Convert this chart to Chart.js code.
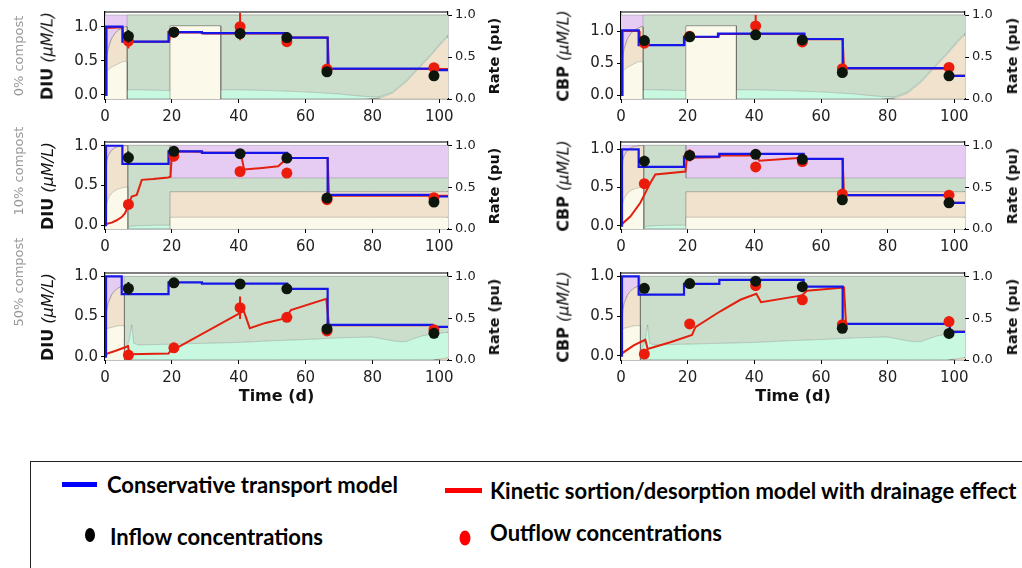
<!DOCTYPE html>
<html>
<head>
<meta charset="utf-8">
<script src="https://cdn.jsdelivr.net/npm/chart.js@4.4.0/dist/chart.umd.min.js"></script>
<style>
  html, body { margin: 0; padding: 0; background: #fff; overflow: hidden; }
  body { width: 1022px; height: 568px; position: relative; font-family: 'DejaVu Sans', sans-serif; }
  .panel { position: absolute; }
  .rot { position: absolute; transform: translate(-50%, -50%) rotate(-90deg); white-space: nowrap; color: #111; }
  .ytitle { font-size: 16px; }
  .ytitle b { font-weight: bold; }
  .ytitle i { font-weight: normal; font-style: italic; }
  .rtitle { font-size: 14.5px; font-weight: bold; }
  .compost { font-size: 13px; color: #999; }
  #legendBox { position: absolute; left: 30px; top: 461px; width: 1100px; height: 200px; border: 1.5px solid #222; }
  .lg { position: absolute; transform: translateY(-50%); font: bold 22px Lato, sans-serif; color: #000; white-space: nowrap; }
  .lgline { position: absolute; height: 5px; }
  .lgdot { position: absolute; border-radius: 50%; transform: translate(-50%, -50%); }
</style>
</head>
<body>
<div id="legendBox"></div>
<div class="lgline" style="left:62px; top:482px; width:35px; background:#0000ff"></div>
<div class="lg" style="left:107px; top:484px">Conservative transport model</div>
<div class="lgline" style="left:445px; top:488px; width:37px; background:#ff0000"></div>
<div class="lg" style="left:490px; top:490px">Kinetic sortion/desorption model with drainage effect</div>
<div class="lgdot" style="left:90px; top:535px; width:10px; height:14px; background:#000"></div>
<div class="lg" style="left:110px; top:536px">Inflow concentrations</div>
<div class="lgdot" style="left:465px; top:538px; width:11px; height:15px; background:#ff0000"></div>
<div class="lg" style="left:490px; top:532px">Outflow concentrations</div>

<script>
// ---- ticks and sampling days ----
const xTicks = [0, 20, 40, 60, 80, 100];
const concTicks = [0, 0.5, 1.0];
const rateTicks = [0, 0.5, 1.0];
const days = [7, 20.6, 40.4, 54.4, 66.4, 98.4];
const compostLabels = ['0% compost', '10% compost', '50% compost'];

// ---- process rates (pu), given as cumulative stack tops ----
// row 1 : 0% compost
const rateT1  = [0, 0.3, 0.6, 1, 2, 3, 4, 5, 6, 6.6, 6.6, 10, 15, 19.5, 19.5, 25, 30, 34.6, 34.6, 40, 50, 60, 70, 75, 78, 82, 86, 90, 94, 98, 101, 103.3];
const cream1  = [0, 0.30, 0.33, 0.35, 0.38, 0.40, 0.42, 0.44, 0.45, 0.44, 0, 0, 0, 0, 0.87, 0.87, 0.87, 0.87, 0, 0, 0, 0, 0, 0, 0, 0, 0, 0, 0, 0, 0, 0];
const tan1    = [0, 0.40, 0.52, 0.60, 0.72, 0.78, 0.82, 0.84, 0.86, 0.86, 0, 0, 0, 0, 0.87, 0.87, 0.87, 0.87, 0, 0, 0, 0, 0, 0, 0, 0.01, 0.07, 0.20, 0.37, 0.54, 0.68, 0.77];
const mint1   = [0, 0.40, 0.52, 0.60, 0.72, 0.78, 0.82, 0.84, 0.86, 0.86, 0.11, 0.11, 0.105, 0.10, 0.87, 0.87, 0.87, 0.87, 0.11, 0.11, 0.10, 0.085, 0.06, 0.04, 0.03, 0.025, 0.085, 0.215, 0.385, 0.555, 0.695, 0.785];
const green1  = [0, 0.40, 0.52, 0.60, 0.72, 0.78, 0.82, 0.84, 0.86, 0.86, 1, 1, 1, 1, 1, 1, 1, 1, 1, 1, 1, 1, 1, 1, 1, 1, 1, 1, 1, 1, 1, 1];
const purple1 = [1, 1, 1, 1, 1, 1, 1, 1, 1, 1, 1, 1, 1, 1, 1, 1, 1, 1, 1, 1, 1, 1, 1, 1, 1, 1, 1, 1, 1, 1, 1, 1];
// row 2 : 10% compost
const rateT2  = [0, 0.3, 0.6, 1, 2, 3, 4, 5, 6, 6.8, 6.8, 8, 10, 15, 19.5, 19.5, 40, 60, 80, 103.3];
const cream2  = [0, 0.25, 0.32, 0.37, 0.43, 0.46, 0.48, 0.49, 0.50, 0.50, 0, 0, 0, 0, 0, 0.14, 0.14, 0.14, 0.14, 0.14];
const tan2    = [0, 0.70, 0.82, 0.88, 0.94, 0.97, 0.985, 0.99, 0.995, 0.995, 0, 0, 0, 0, 0, 0.445, 0.445, 0.445, 0.445, 0.445];
const mint2   = [0, 0.70, 0.82, 0.88, 0.94, 0.97, 0.985, 0.99, 0.995, 0.995, 0.02, 0.035, 0.04, 0.045, 0.045, 0.445, 0.445, 0.445, 0.445, 0.445];
const green2  = [0, 0.70, 0.82, 0.88, 0.94, 0.97, 0.985, 0.99, 0.995, 0.995, 1, 1, 1, 1, 1, 0.61, 0.61, 0.61, 0.61, 0.61];
const purple2 = [1, 1, 1, 1, 1, 1, 1, 1, 1, 1, 1, 1, 1, 1, 1, 1, 1, 1, 1, 1];
// row 3 : 50% compost
const rateT3  = [0, 0.3, 0.6, 1, 2, 3, 4, 5, 5.8, 5.8, 6.5, 7.3, 8, 8.6, 10, 20, 30, 40, 50, 60, 70, 80, 86, 88, 90, 92, 95, 98, 100, 103.3];
const cream3  = [0, 0.36, 0.37, 0.38, 0.39, 0.40, 0.41, 0.41, 0.41, 0, 0, 0, 0, 0, 0, 0, 0, 0, 0, 0, 0, 0, 0, 0, 0, 0, 0, 0, 0, 0];
const tan3    = [0, 0.50, 0.60, 0.68, 0.78, 0.83, 0.86, 0.88, 0.89, 0, 0, 0, 0, 0, 0, 0, 0, 0, 0, 0, 0, 0, 0, 0, 0, 0, 0, 0, 0.01, 0.03];
const mint3   = [0, 0.50, 0.60, 0.68, 0.78, 0.83, 0.86, 0.88, 0.89, 0.12, 0.15, 0.25, 0.42, 0.20, 0.18, 0.19, 0.20, 0.21, 0.23, 0.245, 0.265, 0.275, 0.23, 0.22, 0.22, 0.25, 0.29, 0.31, 0.32, 0.335];
const green3  = [0, 0.50, 0.60, 0.68, 0.78, 0.83, 0.86, 0.88, 0.89, 1, 1, 1, 1, 1, 1, 1, 1, 1, 1, 1, 1, 1, 1, 1, 1, 1, 1, 1, 1, 1];
const purple3 = [1, 1, 1, 1, 1, 1, 1, 1, 1, 1, 1, 1, 1, 1, 1, 1, 1, 1, 1, 1, 1, 1, 1, 1, 1, 1, 1, 1, 1, 1];

// ---- concentrations (uM/L): model curves as [day, value] ----
const blueL1 = [[0,0],[0.3,0],[0.3,1.0],[5.2,1.0],[5.2,0.78],[19,0.78],[19,0.92],[29,0.92],[29,0.905],[54.5,0.905],[54.5,0.84],[66.6,0.84],[66.6,0.385],[98.5,0.385],[98.5,0.365],[103,0.365]];
const redL1  = [[0,0],[0.4,0],[0.5,0.98],[5.3,0.99],[5.6,0.78],[19.2,0.78],[19.5,0.915],[29,0.915],[29.5,0.9],[54.5,0.9],[55,0.84],[66.6,0.84],[67,0.38],[103,0.38]];
const inL1 = [0.86, 0.92, 0.90, 0.84, 0.34, 0.28];
const inErrL1 = [0.09, 0.02, 0.02, 0.02, 0.03, 0.04];
const outL1 = [0.79, 0.92, 1.00, 0.78, 0.38, 0.40];
const outErrL1 = [0.11, 0.02, 0.2, 0.02, 0.02, 0.02];

const blueR1 = [[0,0],[0.3,0],[0.3,1.01],[5.3,1.01],[5.3,0.78],[18.9,0.78],[18.9,0.91],[29.1,0.91],[29.1,0.96],[55,0.96],[55,0.875],[66.5,0.875],[66.5,0.42],[98.3,0.42],[98.3,0.30],[103.3,0.30]];
const redR1  = [[0,0],[0.4,0],[0.5,1.0],[5.4,1.0],[5.6,0.78],[19,0.78],[19.3,0.905],[29.2,0.905],[29.5,0.955],[55,0.955],[55.3,0.87],[66.5,0.87],[66.9,0.415],[98.3,0.415],[98.6,0.30],[103.3,0.30]];
const inR1 = [0.85, 0.91, 0.94, 0.86, 0.35, 0.30];
const inErrR1 = [0.06, 0.02, 0.02, 0.02, 0.02, 0.05];
const outR1 = [0.81, 0.92, 1.08, 0.83, 0.41, 0.43];
const outErrR1 = [0.03, 0.02, 0.17, 0.02, 0.02, 0.02];

const blueL2 = [[0,0],[0.3,0],[0.3,1.0],[5.2,1.0],[5.2,0.77],[19,0.77],[19,0.93],[29,0.93],[29,0.91],[54.5,0.91],[54.5,0.845],[66.6,0.845],[66.6,0.38],[98.5,0.38],[98.5,0.36],[103,0.36]];
const redL2  = [[0,0.01],[2,0.03],[3.5,0.06],[5,0.10],[6,0.15],[7,0.25],[8,0.36],[9.5,0.38],[11,0.57],[14.4,0.58],[18.9,0.60],[19.6,0.61],[20,0.90],[21.5,0.93],[29,0.925],[29.5,0.91],[40.6,0.91],[41.6,0.70],[47,0.72],[51.8,0.74],[54.4,0.84],[55,0.845],[66.6,0.845],[67,0.37],[103,0.37]];
const inL2 = [0.85, 0.93, 0.90, 0.845, 0.34, 0.29];
const inErrL2 = [0.08, 0.02, 0.02, 0.02, 0.03, 0.05];
const outL2 = [0.26, 0.87, 0.675, 0.655, 0.32, 0.345];
const outErrL2 = [0.02, 0.07, 0.02, 0.06, 0.02, 0.02];

const blueR2 = [[0,0],[0.3,0],[0.3,1.0],[5.3,1.0],[5.3,0.77],[18.9,0.77],[18.9,0.905],[29.5,0.905],[29.5,0.94],[54.8,0.94],[54.8,0.875],[66.5,0.875],[66.5,0.40],[98.4,0.40],[98.4,0.30],[103.3,0.30]];
const redR2  = [[0,0.01],[2.8,0.12],[5.8,0.30],[7.3,0.43],[8.8,0.56],[10.3,0.67],[19.3,0.71],[19.8,0.89],[29.5,0.895],[29.8,0.92],[40.5,0.92],[41.5,0.85],[54.3,0.89],[54.8,0.875],[66.5,0.875],[66.9,0.40],[98.4,0.40],[98.6,0.30],[103.3,0.30]];
const inR2 = [0.845, 0.92, 0.935, 0.87, 0.34, 0.30];
const inErrR2 = [0.07, 0.02, 0.02, 0.02, 0.02, 0.05];
const outR2 = [0.55, 0.92, 0.77, 0.84, 0.415, 0.40];
const outErrR2 = [0.02, 0.08, 0.05, 0.02, 0.02, 0.02];

const blueL3 = [[0,0],[0.3,0],[0.3,1.0],[5.0,1.0],[5.0,0.78],[19,0.78],[19,0.925],[29,0.925],[29,0.91],[54.5,0.91],[54.5,0.845],[66.6,0.845],[66.6,0.395],[98,0.395],[98,0.37],[103,0.37]];
const redL3  = [[0,0.03],[3,0.07],[6.9,0.13],[7.3,0.03],[19,0.04],[20,0.09],[21.5,0.11],[40.2,0.54],[41.5,0.57],[43.3,0.355],[48,0.42],[54.1,0.48],[55.6,0.58],[66.2,0.72],[67,0.39],[98,0.39],[98.5,0.37],[103,0.37]];
const inL3 = [0.85, 0.92, 0.905, 0.845, 0.345, 0.29];
const inErrL3 = [0.08, 0.02, 0.02, 0.02, 0.02, 0.06];
const outL3 = [0.02, 0.11, 0.61, 0.49, 0.32, 0.335];
const outErrL3 = [0.02, 0.02, 0.14, 0.02, 0.02, 0.02];

const blueR3 = [[0,0],[0.3,0],[0.3,1.0],[5.3,1.0],[5.3,0.77],[18.9,0.77],[18.9,0.905],[29.5,0.905],[29.5,0.955],[54.8,0.955],[54.8,0.87],[66.5,0.87],[66.5,0.40],[98.6,0.40],[98.6,0.30],[103.3,0.30]];
const redR3  = [[0,0.02],[3.8,0.13],[7.3,0.20],[8,0.085],[14.8,0.17],[21.3,0.26],[22.3,0.36],[29.8,0.56],[35.8,0.705],[40.6,0.78],[42,0.675],[54.3,0.76],[55.8,0.82],[66.9,0.86],[67.5,0.40],[98.6,0.40],[98.8,0.30],[103.3,0.30]];
const inR3 = [0.85, 0.91, 0.94, 0.87, 0.345, 0.28];
const inErrR3 = [0.06, 0.03, 0.03, 0.02, 0.03, 0.06];
const outR3 = [0.02, 0.40, 0.885, 0.705, 0.39, 0.43];
const outErrR3 = [0.02, 0.02, 0.07, 0.02, 0.02, 0.02];

// ---- styling / layout ----
Chart.defaults.font.family = "'DejaVu Sans', sans-serif";
const layerColors = ['#fbf9e9', '#f0e2cc', '#c8f8e0', '#cbdecc', '#e6ccf3'];
const rows = [
  {top: 0,   height: 125, padTop: 12, xh: 26, rate: [rateT1, cream1, tan1, mint1, green1, purple1]},
  {top: 125, height: 130, padTop: 17, xh: 26, rate: [rateT2, cream2, tan2, mint2, green2, purple2]},
  {top: 255, height: 155, padTop: 18, xh: 50, rate: [rateT3, cream3, tan3, mint3, green3, purple3]}
];
const cols = [
  {left: 50,  width: 450, yw: 55, y2w: 52, xMax: 102.6, name: 'DIU', titleX: 47,  rateX: 494},
  {left: 565, width: 445, yw: 56, y2w: 45, xMax: 103.2, name: 'CBP', titleX: 563, rateX: 1012}
];
const panels = [
  {row: 0, col: 0, blue: blueL1, red: redL1, inV: inL1, inE: inErrL1, outV: outL1, outE: outErrL1, y: [-0.059, 1.215], y2: [0, 1.036]},
  {row: 0, col: 1, blue: blueR1, red: redR1, inV: inR1, inE: inErrR1, outV: outR1, outE: outErrR1, y: [-0.0625, 1.297], y2: [0, 1.036]},
  {row: 1, col: 0, blue: blueL2, red: redL2, inV: inL2, inE: inErrL2, outV: outL2, outE: outErrL2, y: [-0.05, 1.047], y2: [0, 1.04]},
  {row: 1, col: 1, blue: blueR2, red: redR2, inV: inR2, inE: inErrR2, outV: outR2, outE: outErrR2, y: [-0.043, 1.096], y2: [0, 1.04]},
  {row: 2, col: 0, blue: blueL3, red: redL3, inV: inL3, inE: inErrL3, outV: outL3, outE: outErrL3, y: [-0.042, 1.042], y2: [0, 1.04]},
  {row: 2, col: 1, blue: blueR3, red: redR3, inV: inR3, inE: inErrR3, outV: outR3, outE: outErrR3, y: [-0.055, 1.043], y2: [0, 1.04]}
];

function xy(pairs) { return pairs.map(function (p) { return {x: p[0], y: p[1]}; }); }
function zipPts(t, v) { return t.map(function (d, i) { return {x: d, y: v[i]}; }); }
function errData(t, v, e) {
  var out = [];
  for (var i = 0; i < t.length; i++) {
    out.push({x: t[i], y: v[i] - e[i]}, {x: t[i], y: v[i] + e[i]}, {x: t[i], y: null});
  }
  return out;
}

// top spine, like the matplotlib frame
const frame = {
  id: 'frame',
  afterDatasetsDraw: function (chart) {
    var a = chart.chartArea, c = chart.ctx;
    c.save();
    c.strokeStyle = '#000';
    c.lineWidth = 1.2;
    c.beginPath();
    c.moveTo(a.left, a.top);
    c.lineTo(a.right, a.top);
    c.stroke();
    c.restore();
  }
};

function fixTicks(list) {
  return function (s) { s.ticks = list.map(function (v) { return {value: v}; }); };
}

panels.forEach(function (p) {
  var row = rows[p.row], col = cols[p.col];
  var box = document.createElement('div');
  box.className = 'panel';
  box.style.left = col.left + 'px';
  box.style.top = row.top + 'px';
  var cv = document.createElement('canvas');
  cv.width = col.width;
  cv.height = row.height;
  box.appendChild(cv);
  document.body.appendChild(box);

  var ink = '#0c160c', red = '#ec1c0c';
  var datasets = [
    {type: 'scatter', data: zipPts(days, p.inV), pointRadius: 5.5, pointBackgroundColor: ink, pointBorderWidth: 0, yAxisID: 'y'},
    {data: errData(days, p.inV, p.inE), borderColor: ink, borderWidth: 2, pointRadius: 0, spanGaps: false, yAxisID: 'y'},
    {type: 'scatter', data: zipPts(days, p.outV), pointRadius: 5.5, pointBackgroundColor: red, pointBorderWidth: 0, yAxisID: 'y'},
    {data: errData(days, p.outV, p.outE), borderColor: red, borderWidth: 2, pointRadius: 0, spanGaps: false, yAxisID: 'y'},
    {data: xy(p.blue), borderColor: '#1616e8', borderWidth: 2.2, pointRadius: 0, yAxisID: 'y'},
    {data: xy(p.red), borderColor: '#e3200f', borderWidth: 2, pointRadius: 0, yAxisID: 'y'}
  ];
  var rt = row.rate[0];
  for (var k = 1; k <= 5; k++) {
    datasets.push({
      data: zipPts(rt, row.rate[k]),
      yAxisID: 'y2',
      borderColor: 'rgba(70,70,70,0.25)',
      borderWidth: 1,
      pointRadius: 0,
      backgroundColor: layerColors[k - 1],
      fill: k === 1 ? 'origin' : '-1'
    });
  }

  var tickGrid = {drawOnChartArea: false, drawTicks: true, tickLength: 4, color: '#000'};
  new Chart(cv, {
    type: 'line',
    data: {datasets: datasets},
    options: {
      responsive: false,
      animation: false,
      layout: {padding: {top: row.padTop, left: 0, right: 0, bottom: 0}},
      plugins: {legend: {display: false}, tooltip: {enabled: false}},
      elements: {line: {tension: 0}},
      scales: {
        x: {
          type: 'linear', min: 0, max: col.xMax,
          afterBuildTicks: fixTicks(xTicks),
          afterFit: function (s) { s.height = row.xh; },
          ticks: {font: {size: 15}, color: '#222', maxRotation: 0, autoSkip: false, padding: 5},
          grid: tickGrid,
          border: {color: '#000', width: 1.2},
          title: {display: p.row === 2, text: 'Time (d)', color: '#111', font: {size: 16, weight: 'bold'}, padding: {top: 2, bottom: 4}}
        },
        y: {
          type: 'linear', position: 'left', min: p.y[0], max: p.y[1],
          afterBuildTicks: fixTicks(concTicks),
          afterFit: function (s) { s.width = col.yw; },
          ticks: {font: {size: 15}, color: '#222', padding: 3, callback: function (v) { return v.toFixed(1); }},
          grid: tickGrid,
          border: {color: '#000', width: 1.2}
        },
        y2: {
          type: 'linear', position: 'right', min: p.y2[0], max: p.y2[1],
          afterBuildTicks: fixTicks(rateTicks),
          afterFit: function (s) { s.width = col.y2w; },
          ticks: {font: {size: 13}, color: '#222', padding: 3, callback: function (v) { return v.toFixed(1); }},
          grid: tickGrid,
          border: {color: '#000', width: 1.2}
        }
      }
    },
    plugins: [frame]
  });

  // axis titles (matplotlib-style mixed font, reading bottom to top)
  var cy = row.top + row.padTop + (row.height - row.padTop - row.xh) / 2;
  var yt = document.createElement('div');
  yt.className = 'rot ytitle';
  yt.style.left = col.titleX + 'px';
  yt.style.top = cy + 'px';
  yt.innerHTML = '<b>' + col.name + '</b> <i>(\u03bcM/L)</i>';
  document.body.appendChild(yt);
  var rtl = document.createElement('div');
  rtl.className = 'rot rtitle';
  rtl.style.left = col.rateX + 'px';
  rtl.style.top = cy + 'px';
  rtl.textContent = 'Rate (pu)';
  document.body.appendChild(rtl);
});

// compost labels on the far left
[56, 171, 282].forEach(function (y, i) {
  var d = document.createElement('div');
  d.className = 'rot compost';
  d.style.left = '18px';
  d.style.top = y + 'px';
  d.textContent = compostLabels[i];
  document.body.appendChild(d);
});
</script>
</body>
</html>
